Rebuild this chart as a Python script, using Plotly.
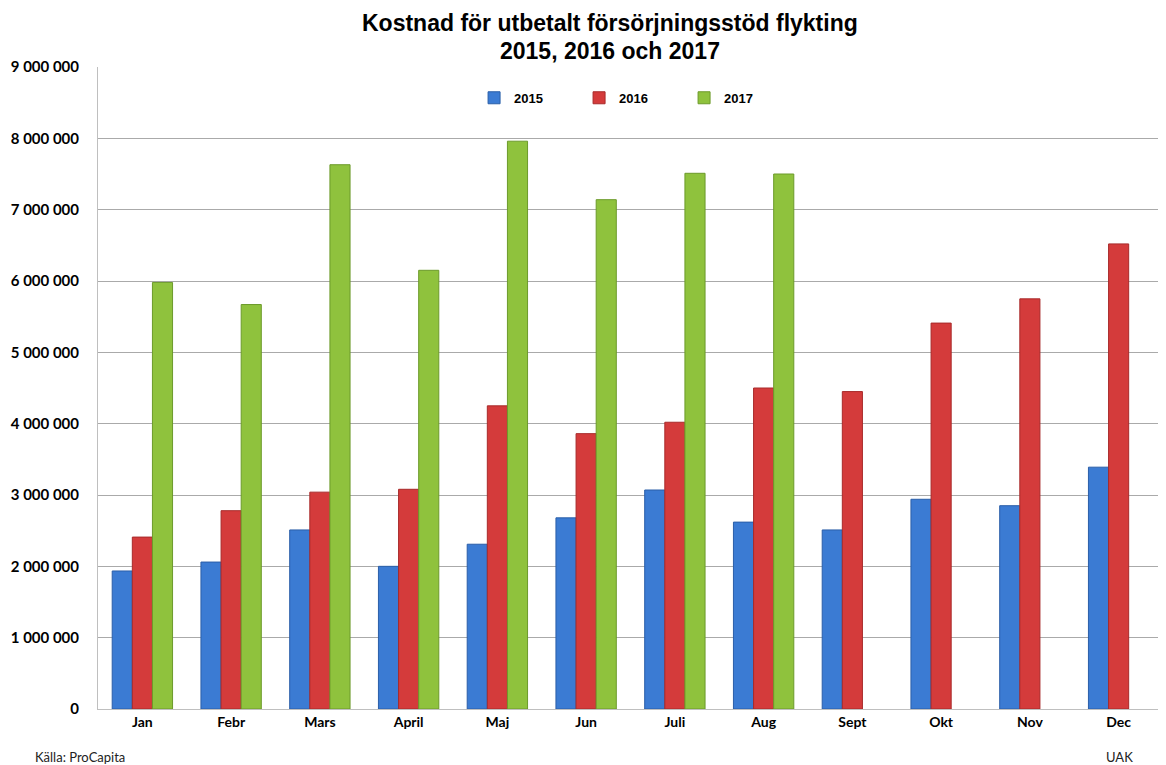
import plotly.graph_objects as go

months = ["Jan", "Febr", "Mars", "April", "Maj", "Jun", "Juli", "Aug", "Sept", "Okt", "Nov", "Dec"]
y2015 = [1935000, 2060000, 2510000, 2000000, 2310000, 2680000, 3070000, 2620000, 2510000, 2940000, 2850000, 3390000]
y2016 = [2410000, 2780000, 3040000, 3080000, 4250000, 3860000, 4020000, 4500000, 4450000, 5410000, 5750000, 6520000]
y2017 = [5980000, 5670000, 7630000, 6150000, 7960000, 7140000, 7510000, 7500000, None, None, None, None]
tick_vals = [0, 1000000, 2000000, 3000000, 4000000, 5000000, 6000000, 7000000, 8000000, 9000000]
title_lines = ["Kostnad för utbetalt försörjningsstöd flykting", "2015, 2016 och 2017"]

series = [
    ("2015", y2015, "#3b7bd3", "#2a5ea8"),
    ("2016", y2016, "#d43b3b", "#a82a2a"),
    ("2017", y2017, "#8fc23d", "#6c9a2a"),
]

fig = go.Figure()
for name, vals, col, edge in series:
    fig.add_trace(go.Bar(x=months, y=vals, name=name,
                         marker=dict(color=col, line=dict(color=edge, width=1))))

title_font = dict(family="Liberation Sans, Arial", size=23, color="#000", weight="bold")
note_font = dict(family="Lato, Open Sans", size=13, color="#222")

# plot area in figure pixels: left 90, right 1155, top 59, bottom 701 (height 642, width 1065)
fig.update_layout(
    width=1166, height=765,
    paper_bgcolor="white", plot_bgcolor="white",
    margin=dict(l=90, r=11, t=59, b=64, autoexpand=False),
    barmode="group", bargap=0.32, bargroupgap=0.0,
    separators=", ",
    legend=dict(orientation="h", x=0.501, xanchor="center", y=0.952, yanchor="middle",
                font=dict(family="Liberation Sans, Arial", size=13, color="#000", weight="bold"),
                entrywidth=60, itemwidth=30, bgcolor="rgba(0,0,0,0)", traceorder="normal"),
    xaxis=dict(showgrid=False, showline=True, linecolor="#bfbfbf", linewidth=1, automargin=False,
               ticks="", tickfont=dict(family="Lato, Open Sans", size=14, color="#000", weight="bold")),
    yaxis=dict(range=[0, 9000000], tickvals=tick_vals, tickformat=",d", automargin=False,
               showgrid=True, gridcolor="#aaaaaa", gridwidth=1,
               showline=True, linecolor="#bfbfbf", linewidth=1, zeroline=False,
               ticks="", ticklabelstandoff=15,
               tickfont=dict(family="Lato, Open Sans", size=15, color="#000", weight="bold")),
    annotations=[
        dict(text=title_lines[0], xref="paper", yref="paper", x=(602 - 90) / 1065, y=1.0 + (59 - 15.5) / 642,
             xanchor="center", yanchor="middle", showarrow=False, font=title_font),
        dict(text=title_lines[1], xref="paper", yref="paper", x=(602 - 90) / 1065, y=1.0 + (59 - 43) / 642,
             xanchor="center", yanchor="middle", showarrow=False, font=title_font),
        dict(text="Källa: ProCapita", xref="paper", yref="paper", x=-0.061, y=-0.0748,
             xanchor="left", yanchor="middle", showarrow=False, font=note_font),
        dict(text="UAK", xref="paper", yref="paper", x=0.9596, y=-0.0755,
             xanchor="center", yanchor="middle", showarrow=False, font=note_font),
    ],
)

fig.write_html("out.html")
